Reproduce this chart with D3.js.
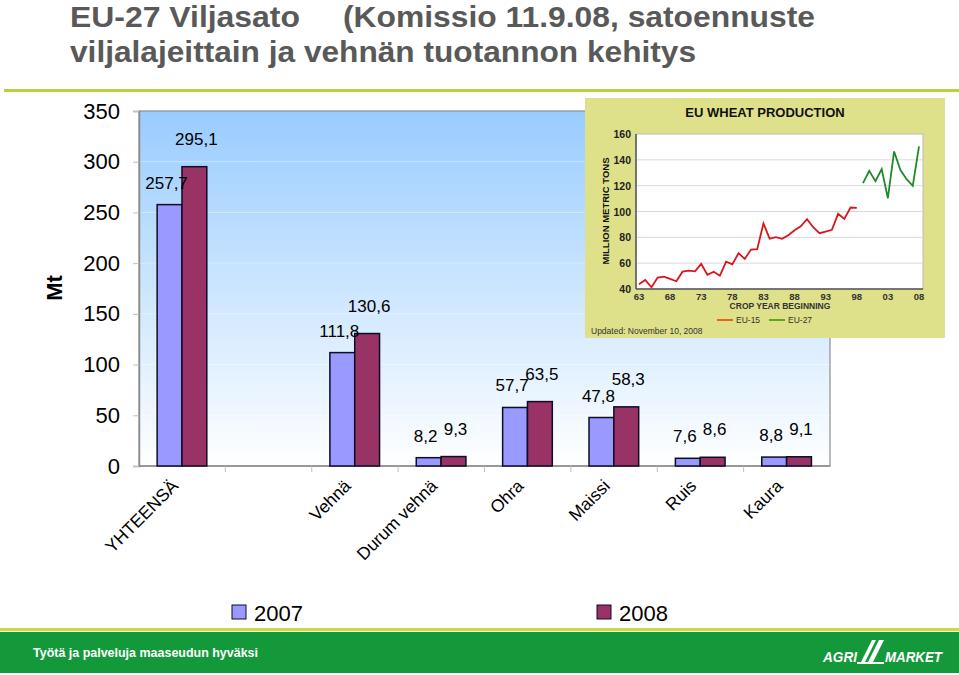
<!DOCTYPE html>
<html>
<head>
<meta charset="utf-8">
<script src="https://cdn.jsdelivr.net/npm/d3@7"></script>
<style>
  body { margin: 0; background: #fff; }
  svg { display: block; font-family: Arial, "Liberation Sans", sans-serif; }
</style>
</head>
<body>
<svg id="chart" width="959" height="675"></svg>
<script>
// main chart data
var categories = ["YHTEENSÄ", "", "Vehnä", "Durum vehnä", "Ohra", "Maissi", "Ruis", "Kaura"];
var values2007 = [257.7, null, 111.8, 8.2, 57.7, 47.8, 7.6, 8.8];
var values2008 = [295.1, null, 130.6, 9.3, 63.5, 58.3, 8.6, 9.1];
var seriesNames = ["2007", "2008"];
var yTicks = [0, 50, 100, 150, 200, 250, 300, 350];

// inset (EU wheat production) data
var wheatYears = d3.range(1963, 2009);
var eu15 = [43.6, 47, 41.3, 48.8, 49.6, 47.8, 46, 53.4, 54.2, 53.7, 59.4, 50.9, 53.4, 50.3, 61.2, 59.1,
  67.7, 63.3, 70.5, 70.8, 90.7, 79, 80.1, 78.8, 81.6, 85.5, 88.6, 94, 87.8, 83.2, 84.5, 85.8, 98.2, 94.3, 103.1, 102.8];
var eu27 = [122, 131.5, 123.5, 132.8, 110.3, 146.5, 132.3, 125, 119.9, 150.4];
var insetYTicks = [40, 60, 80, 100, 120, 140, 160];
var insetXTicks = [1963, 1968, 1973, 1978, 1983, 1988, 1993, 1998, 2003, 2008];

var svg = d3.select("#chart");
var colors = {"2007": "#9999ff", "2008": "#993366"};

// title
var title = svg.append("g")
    .attr("fill", "#595959")
    .attr("font-family", "'Liberation Sans Narrow', 'Arial Narrow', Arial, sans-serif")
    .attr("font-weight", "bold")
    .attr("font-size", 29);
title.append("text").attr("x", 70).attr("y", 27)
    .attr("textLength", 230).attr("lengthAdjust", "spacingAndGlyphs")
    .text("EU-27 Viljasato");
title.append("text").attr("x", 343).attr("y", 27)
    .attr("textLength", 472).attr("lengthAdjust", "spacingAndGlyphs")
    .text("(Komissio 11.9.08, satoennuste");
title.append("text").attr("x", 70).attr("y", 62)
    .attr("textLength", 626).attr("lengthAdjust", "spacingAndGlyphs")
    .text("viljalajeittain ja vehnän tuotannon kehitys");

svg.append("rect").attr("x", 4).attr("y", 89).attr("width", 955).attr("height", 3).attr("fill", "#b8d43a");

// plot
var margin = {left: 139, right: 830, top: 111, bottom: 466};
var defs = svg.append("defs");
var grad = defs.append("linearGradient").attr("id", "bg").attr("x1", 0).attr("y1", 0).attr("x2", 0).attr("y2", 1);
grad.append("stop").attr("offset", "0%").attr("stop-color", "#99ccff");
grad.append("stop").attr("offset", "100%").attr("stop-color", "#ffffff");

var x = d3.scaleBand().domain(d3.range(categories.length)).range([margin.left, margin.right]);
var x1 = d3.scaleBand().domain(seriesNames).range([x.bandwidth() * 0.21, x.bandwidth() * 0.785]);
var y = d3.scaleLinear().domain([0, 350]).range([margin.bottom, margin.top]);

svg.append("rect")
    .attr("x", margin.left).attr("y", margin.top)
    .attr("width", margin.right - margin.left).attr("height", margin.bottom - margin.top)
    .attr("fill", "url(#bg)")
    .attr("stroke", "#8c8c8c").attr("stroke-width", 1.2);

svg.append("g").selectAll("line").data(yTicks.slice(1, -1)).join("line")
    .attr("x1", margin.left).attr("x2", margin.right)
    .attr("y1", function(d) { return y(d); }).attr("y2", function(d) { return y(d); })
    .attr("stroke", "#ffffff").attr("stroke-opacity", 0.35);

// y axis
var yAxis = svg.append("g")
    .attr("transform", "translate(" + margin.left + ",0)")
    .call(d3.axisLeft(y).tickValues(yTicks).tickSize(6).tickPadding(13));
yAxis.select(".domain").attr("stroke", "#8c8c8c").attr("stroke-width", 1.5);
yAxis.selectAll(".tick line").attr("stroke", "#bfbfbf");
yAxis.selectAll(".tick text").attr("font-size", 22).attr("fill", "#000").attr("font-family", "Arial, 'Liberation Sans', sans-serif");

svg.append("text")
    .attr("transform", "translate(62,288) rotate(-90)")
    .attr("text-anchor", "middle")
    .attr("font-size", 22).attr("font-weight", "bold")
    .text("Mt");

// x axis
var xAxis = svg.append("g").attr("transform", "translate(0," + margin.bottom + ")");
xAxis.append("line").attr("x1", margin.left).attr("x2", margin.right).attr("stroke", "#8c8c8c").attr("stroke-width", 1.5);
xAxis.selectAll(".tk").data(d3.range(1, categories.length)).join("line")
    .attr("class", "tk")
    .attr("x1", function(d) { return x(d); }).attr("x2", function(d) { return x(d); })
    .attr("y1", 0).attr("y2", 6).attr("stroke", "#bfbfbf");
xAxis.selectAll(".lbl").data(categories).join("text")
    .attr("class", "lbl")
    .attr("transform", function(d, i) { return "translate(" + (x(i) + x.bandwidth() / 2 - 3) + ",21) rotate(-45)"; })
    .attr("text-anchor", "end")
    .attr("font-size", 17.5)
    .text(function(d) { return d; });

// bars
var rows = categories.map(function(c, i) {
  return {i: i, vals: [{s: "2007", v: values2007[i]}, {s: "2008", v: values2008[i]}]};
});
var grp = svg.append("g").selectAll("g").data(rows).join("g")
    .attr("transform", function(d) { return "translate(" + x(d.i) + ",0)"; });
grp.selectAll("rect").data(function(d) { return d.vals.filter(function(e) { return e.v != null; }); }).join("rect")
    .attr("x", function(d) { return x1(d.s); })
    .attr("width", x1.bandwidth())
    .attr("y", function(d) { return y(d.v); })
    .attr("height", function(d) { return y(0) - y(d.v); })
    .attr("fill", function(d) { return colors[d.s]; })
    .attr("stroke", "#0d0d26").attr("stroke-width", 1.5);
grp.selectAll("text").data(function(d) { return d.vals.filter(function(e) { return e.v != null; }); }).join("text")
    .attr("x", function(d) { return x1(d.s) + x1.bandwidth() / 2 + (d.s == "2007" ? -3 : 2); })
    .attr("y", function(d) { return y(d.v) - (d.s == "2007" ? 16 : 22); })
    .attr("text-anchor", "middle")
    .attr("font-size", 17)
    .text(function(d) { return d3.format(".1f")(d.v).replace(".", ","); });

// legend
var legend = svg.append("g").selectAll("g").data(seriesNames).join("g")
    .attr("transform", function(d, i) { return "translate(" + (i == 0 ? 232 : 597) + ",605)"; });
legend.append("rect").attr("width", 14).attr("height", 14)
    .attr("fill", function(d) { return colors[d]; }).attr("stroke", "#0d0d26").attr("stroke-width", 1);
legend.append("text").attr("x", 22).attr("y", 16).attr("font-size", 22).text(function(d) { return d; });

// inset chart
var inset = svg.append("g");
inset.append("rect").attr("x", 585).attr("y", 98).attr("width", 360).attr("height", 240).attr("fill", "#dfe08a");
inset.append("text").attr("x", 765).attr("y", 117).attr("text-anchor", "middle")
    .attr("font-size", 13).attr("font-weight", "bold").attr("fill", "#111").text("EU WHEAT PRODUCTION");
var ix = d3.scaleLinear().domain([1963, 2008]).range([639, 919]);
var iy = d3.scaleLinear().domain([40, 160]).range([289, 134]);
inset.append("rect").attr("x", 636).attr("y", 134).attr("width", 287).attr("height", 155)
    .attr("fill", "#fff").attr("stroke", "#bbb");
inset.append("g").selectAll("line").data(insetYTicks.slice(1, -1)).join("line")
    .attr("x1", 636).attr("x2", 923)
    .attr("y1", function(d) { return iy(d); }).attr("y2", function(d) { return iy(d); })
    .attr("stroke", "#d9d9d9");
inset.append("line").attr("x1", 636).attr("x2", 636).attr("y1", 134).attr("y2", 289).attr("stroke", "#555").attr("stroke-width", 1.5);
inset.append("line").attr("x1", 636).attr("x2", 923).attr("y1", 289).attr("y2", 289).attr("stroke", "#555").attr("stroke-width", 1.5);
inset.append("g").selectAll("text").data(insetYTicks).join("text")
    .attr("x", 631).attr("y", function(d) { return iy(d) + 4; })
    .attr("text-anchor", "end").attr("font-size", 10.5).attr("font-weight", "bold").attr("fill", "#222")
    .text(function(d) { return d; });
inset.append("g").selectAll("text").data(insetXTicks).join("text")
    .attr("x", function(d) { return ix(d); }).attr("y", 300)
    .attr("text-anchor", "middle").attr("font-size", 9.5).attr("font-weight", "bold").attr("fill", "#333")
    .text(function(d) { return String(d).slice(2); });
inset.append("text").attr("x", 780).attr("y", 309).attr("text-anchor", "middle")
    .attr("font-size", 8.5).attr("font-weight", "bold").attr("fill", "#333").text("CROP YEAR BEGINNING");
inset.append("text").attr("transform", "translate(609,211) rotate(-90)").attr("text-anchor", "middle")
    .attr("font-size", 9.5).attr("font-weight", "bold").attr("fill", "#111").text("MILLION METRIC TONS");

var line = d3.line().x(function(d) { return ix(d[0]); }).y(function(d) { return iy(d[1]); });
var eu15pts = eu15.map(function(v, i) { return [wheatYears[i], v]; });
var eu27pts = eu27.map(function(v, i) { return [wheatYears[eu15.length + i], v]; });
inset.append("path").datum(eu15pts).attr("d", line).attr("fill", "none").attr("stroke", "#d9161e").attr("stroke-width", 1.8);
inset.append("path").datum(eu27pts).attr("d", line).attr("fill", "none").attr("stroke", "#1f8a2a").attr("stroke-width", 1.8);

var il = inset.append("g").selectAll("g").data([["EU-15", "#e8641a", 717], ["EU-27", "#58a822", 769]]).join("g");
il.append("line").attr("x1", function(d) { return d[2]; }).attr("x2", function(d) { return d[2] + 16; })
    .attr("y1", 320).attr("y2", 320).attr("stroke", function(d) { return d[1]; }).attr("stroke-width", 2);
il.append("text").attr("x", function(d) { return d[2] + 19; }).attr("y", 323)
    .attr("font-size", 8.5).attr("fill", "#333").text(function(d) { return d[0]; });
inset.append("text").attr("x", 591).attr("y", 334).attr("font-size", 8.5).attr("fill", "#333").text("Updated: November 10, 2008");

// footer band
svg.append("rect").attr("x", 0).attr("y", 628).attr("width", 959).attr("height", 3).attr("fill", "#c8dc3c");
svg.append("rect").attr("x", 0).attr("y", 632).attr("width", 959).attr("height", 41).attr("fill", "#14993a");
svg.append("text").attr("x", 33).attr("y", 657)
    .attr("font-size", 13).attr("font-weight", "bold").attr("fill", "#fff")
    .attr("textLength", 225).attr("lengthAdjust", "spacingAndGlyphs")
    .text("Työtä ja palveluja maaseudun hyväksi");
var logo = svg.append("g").attr("fill", "#fff").attr("font-weight", "bold").attr("font-style", "italic").attr("font-size", 14);
logo.append("text").attr("x", 823).attr("y", 662).attr("textLength", 34).attr("lengthAdjust", "spacingAndGlyphs").text("AGRI");
logo.append("text").attr("x", 885).attr("y", 662).attr("textLength", 57).attr("lengthAdjust", "spacingAndGlyphs").text("MARKET");
logo.append("path").attr("d", "M861,662 L872,640 L876,640 L865,662 Z M868,662 L879,640 L884,640 L873,662 Z");
logo.append("rect").attr("x", 857).attr("y", 662).attr("width", 27).attr("height", 2);
</script>
</body>
</html>
